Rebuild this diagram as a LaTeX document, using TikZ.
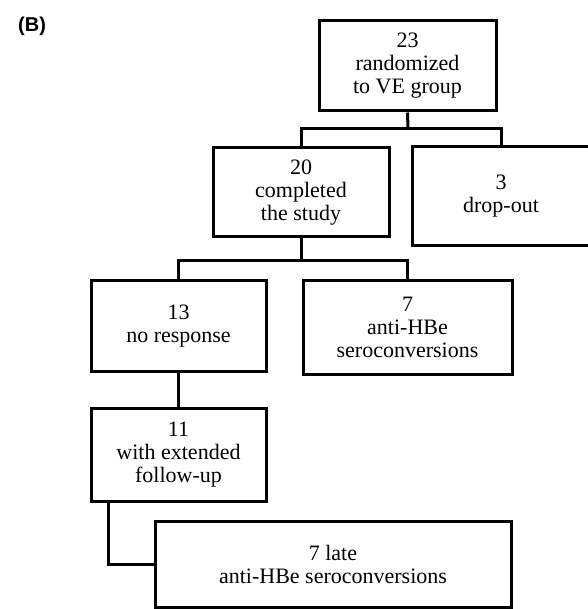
\documentclass[tikz,border=0pt]{standalone}
\usepackage{fontspec}
\setmainfont{Liberation Serif}
\newfontfamily\lsans{Liberation Sans}
\begin{document}
\begin{tikzpicture}[x=1pt,y=-1pt,
  box/.style={draw, line width=3pt, rectangle, align=center, inner sep=0pt,
    font=\fontsize{22}{23}\selectfont},
  conn/.style={line width=3pt, line join=miter}]
\useasboundingbox (0,0) rectangle (587,609);
\node[anchor=base west, inner sep=0pt, font=\lsans\bfseries\fontsize{20}{22}\selectfont] (lab) at (18,32) {(B)};
\node[box, minimum width=177pt, minimum height=90pt] (top) at (407.5,66) {23\\randomized\\to VE group};
\node[box, minimum width=176pt, minimum height=89pt] (comp) at (301,192.5) {20\\completed\\the study};
\node[box, minimum width=178pt, minimum height=98pt] (drop) at (501,196) {3\\drop-out};
\node[box, minimum width=175pt, minimum height=91pt] (nores) at (178.5,326) {13\\no response};
\node[box, minimum width=209pt, minimum height=94pt] (anti) at (407.5,327) {7\\anti-HBe\\seroconversions};
\node[box, minimum width=175pt, minimum height=93pt] (ext) at (178.5,454.5) {11\\with extended\\follow-up};
\node[box, minimum width=356pt, minimum height=86pt] (late) at (333,564) {7 late\\anti-HBe seroconversions};
\coordinate (b1) at (408,129);
\coordinate (b2) at (301,260);
\coordinate (cx) at (108,0);
\draw[conn] (top.south) -- (b1);
\draw[conn] (comp.north) |- (b1) -| (drop.north);
\draw[conn] (comp.south) -- (b2);
\draw[conn] (nores.north) |- (b2) -| (anti.north);
\draw[conn] (nores.south) -- (ext.north);
\draw[conn] (ext.south -| cx) |- (late.west);
\end{tikzpicture}
\end{document}
